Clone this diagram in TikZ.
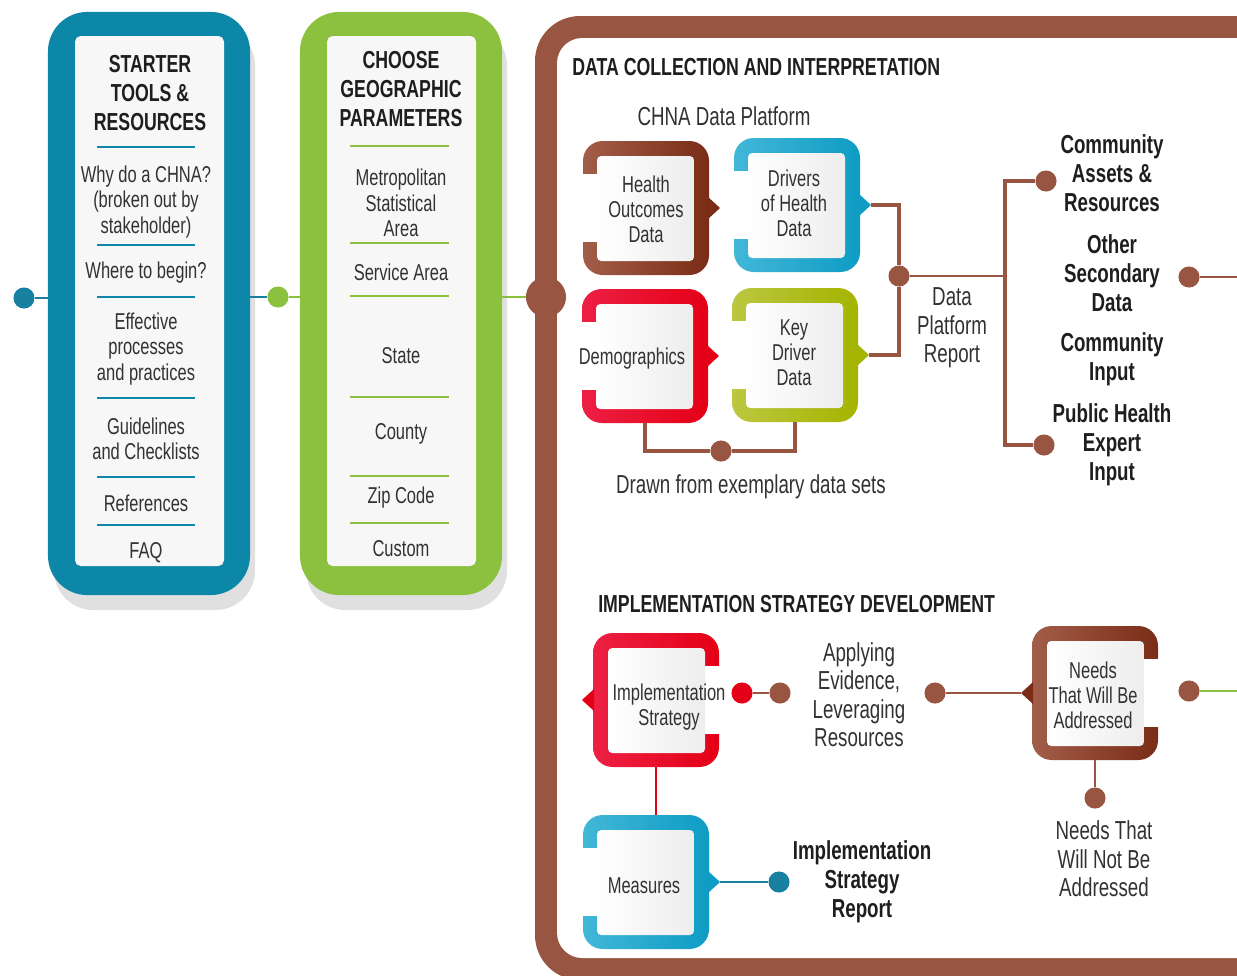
\documentclass[tikz,border=0pt]{standalone}
\usepackage{fontspec}
\setmainfont{Liberation Sans}[FakeStretch=0.72]
\usepackage{tikz}
\usetikzlibrary{positioning,calc}

\definecolor{starterblue}{RGB}{13,135,168}
\definecolor{geogreen}{RGB}{140,193,63}
\definecolor{framebrown}{RGB}{152,86,66}
\definecolor{brownlight}{RGB}{162,94,74}
\definecolor{browndark}{RGB}{122,44,22}
\definecolor{bluelight}{RGB}{66,183,216}
\definecolor{bluedark}{RGB}{14,156,196}
\definecolor{redlight}{RGB}{237,32,68}
\definecolor{reddark}{RGB}{228,0,22}
\definecolor{olivelight}{RGB}{189,199,64}
\definecolor{olivedark}{RGB}{164,180,0}
\definecolor{dotblue}{RGB}{24,128,160}
\definecolor{textgray}{RGB}{50,50,50}
\definecolor{textdark}{RGB}{30,30,30}

% tile frame: name, x, y, colour, open side (1 = left, -1 = right)
\newcommand{\tile}[5]{%
  \begin{scope}[shift={(#2,#3)}, xscale=#5]
    \shade[left color=#4light, right color=#4dark, rounded corners=14pt] (-63,-67) rectangle (63,67);
    \fill[white] (-64,-34) rectangle (-47,34);
    \fill[#4dark] (62,-11) -- (74,0) -- (62,11) -- cycle;
    \shade[left color=white, right color=black!7, rounded corners=3pt] (-49,-52) rectangle (48,53);
    \coordinate (#1-tip) at (74,0);
    \coordinate (#1-top) at (0,-67);
    \coordinate (#1-bot) at (0,67);
  \end{scope}}

\begin{document}
\begin{tikzpicture}[x=0.025cm, y=-0.025cm,
    outerbox/.style={minimum width=5.05cm, minimum height=14.575cm, rounded corners=28pt, inner sep=0},
    head/.style={font=\bfseries\fontsize{17.5}{20.3}\selectfont, text=textdark, align=center},
    item/.style={font=\fontsize{16.3}{18}\selectfont, text=textgray, align=center, yshift=-2pt},
    tiletext/.style={font=\fontsize{16.3}{17.8}\selectfont, text=textgray, align=center, yshift=-1.5pt},
    label/.style={font=\fontsize{18.5}{20.3}\selectfont, text=textgray, align=center, yshift=-2pt},
    blabel/.style={font=\bfseries\fontsize{18.5}{20.6}\selectfont, text=textdark, align=center},
    title/.style={font=\bfseries\fontsize{17.5}{20}\selectfont, text=textdark, anchor=west, inner sep=0},
    dot/.style={circle, fill=framebrown, minimum size=15pt, inner sep=0},
    link/.style={draw=framebrown, line width=3.5pt},
    thinlink/.style={draw=framebrown, line width=2.1pt},
    bluelink/.style={draw=dotblue, line width=2pt},
    greenlink/.style={draw=geogreen, line width=2pt},
    redlink/.style={draw=reddark, line width=1.6pt}]

  \useasboundingbox (0,0) rectangle (1237,975);
  \clip (0,0) rectangle (1237,975);

  % Starter tools column
  \fill[black!12, rounded corners=28pt] (54,26) rectangle (255,610);
  \node[outerbox, fill=starterblue] (starter) at (149,303.5) {};
  \fill[black!3, rounded corners=4pt] (75,36) rectangle (224,566);
  \node[head] (starthead) at (150,93) {STARTER\\TOOLS \&\\RESOURCES};
  \foreach \y in {147,245,297,398,477,525}
    \draw[starterblue, line width=2.1pt] (97,\y) -- (195,\y);
  \foreach \i/\y/\t in {1/199/{Why do a CHNA?\\(broken out by\\stakeholder)}, 2/270/{Where to begin?},
      3/346/{Effective\\processes\\and practices}, 4/436/{Guidelines\\and Checklists},
      5/500/{References}, 6/550/{FAQ}}
    \node[item] (start\i) at (146,\y) {\t};

  % Geographic parameters column
  \fill[black!12, rounded corners=28pt] (306,26) rectangle (507,610);
  \node[outerbox, fill=geogreen] (geo) at (401,303.5) {};
  \fill[black!3, rounded corners=4pt] (327,36) rectangle (476,566);
  \node[head] (geohead) at (401,89) {CHOOSE\\GEOGRAPHIC\\PARAMETERS};
  \foreach \y in {146,243,296,397,476,523}
    \draw[geogreen, line width=2.1pt] (350,\y) -- (449,\y);
  \foreach \i/\y/\t in {1/200/{Metropolitan\\Statistical\\Area}, 2/269/{Service Area},
      3/353/{State}, 4/431/{County}, 5/495/{Zip Code}, 6/546/{Custom}}
    \node[item] (geo\i) at (401,\y) {\t};

  % Big frame
  \fill[framebrown, rounded corners=32pt] (535,16) rectangle (1320,980);
  \fill[white, rounded corners=18pt] (557,38) rectangle (1300,958);

  % Chain on the left
  \node[dot, fill=dotblue] (startdot) at (24,298) {};
  \draw[bluelink] (startdot) -- (startdot -| starter.west);
  \node[dot, fill=geogreen] (geodot) at (278,297) {};
  \draw[bluelink] (starter.east |- geodot) -- (geodot);
  \draw[greenlink] (geodot) -- (geodot -| geo.west);
  \node[dot, minimum size=28.5pt] (framedot) at (546,297) {};
  \draw[greenlink] (geo.east |- framedot) -- (framedot);

  % Data collection
  \node[title] (datatitle) at (572,67) {DATA COLLECTION AND INTERPRETATION};
  \node[label] (platform) at (724,113) {CHNA Data Platform};

  \tile{outcomesT}{646}{208}{brown}{1}
  \tile{driversT}{797}{205}{blue}{1}
  \tile{demoT}{645}{356}{red}{1}
  \tile{keyT}{795}{355}{olive}{1}
  \node[tiletext] (outcomes) at (646,207) {Health\\Outcomes\\Data};
  \node[tiletext] (drivers) at (794,201) {Drivers\\of Health\\Data};
  \node[tiletext] (demo) at (632,356) {Demographics};
  \node[tiletext] (keydriver) at (794,351) {Key\\Driver\\Data};

  \node[dot] (platdot) at (899,276) {};
  \draw[link] (driversT-tip) -| (platdot) |- (keyT-tip);
  \node[dot] (drawdot) at (721,451) {};
  \draw[link] (demoT-bot) |- (drawdot) -| (keyT-bot);
  \node[label] (drawn) at (751,484) {Drawn from exemplary data sets};
  \node[label] (report) at (952,325) {Data\\Platform\\Report};

  \coordinate (platbar) at (1005,276);
  \draw[thinlink] (platdot) -- (platbar);
  \node[dot] (assetsdot) at (1046,181) {};
  \node[dot] (expertdot) at (1044,445) {};
  \draw[link] (assetsdot) -| (platbar) |- (expertdot);

  \node[blabel] (assets) at (1112,173) {Community\\Assets \&\\Resources};
  \node[blabel] (secondary) at (1112,273) {Other\\Secondary\\Data};
  \node[blabel] (input) at (1112,359) {Community\\Input};
  \node[blabel] (expert) at (1112,445) {Public Health\\Expert\\Input};
  \node[dot] (secdot) at (1189,277) {};
  \coordinate (secend) at (1240,277);
  \draw[thinlink] (secdot) -- (secend);

  % Implementation strategy
  \node[title] (impltitle) at (598,604) {IMPLEMENTATION STRATEGY DEVELOPMENT};

  \tile{implT}{656}{700}{red}{-1}
  \tile{needsT}{1095}{693}{brown}{-1}
  \tile{measT}{646}{882}{blue}{1}
  \node[tiletext] (impl) at (669,705) {Implementation\\Strategy};
  \node[tiletext] (needs) at (1093,693) {Needs\\That Will Be\\Addressed};
  \node[tiletext] (measures) at (644,884) {Measures};

  \draw[redlink] (implT-bot) -- (implT-bot |- measT-top);
  \node[dot, fill=reddark] (impldot) at (742,693) {};
  \node[dot] (evdot) at (780,693) {};
  \draw[thinlink] (impldot) -- (evdot);
  \node[label] (evidence) at (859,692) {Applying\\Evidence,\\Leveraging\\Resources};
  \node[dot] (needdot) at (935,693) {};
  \draw[thinlink] (needdot) -- (needsT-tip);
  \node[dot] (notdot) at (1095,798) {};
  \draw[thinlink] (needsT-bot) -- (notdot);
  \node[label] (notneeds) at (1104,856) {Needs That\\Will Not Be\\Addressed};
  \node[dot] (adddot) at (1189,691) {};
  \coordinate (addend) at (1240,691);
  \draw[greenlink] (adddot) -- (addend);

  \node[dot, fill=dotblue] (repdot) at (779,882) {};
  \draw[bluelink] (measT-tip) -- (repdot);
  \node[blabel] (implreport) at (862,882) {Implementation\\Strategy\\Report};

\end{tikzpicture}
\end{document}
